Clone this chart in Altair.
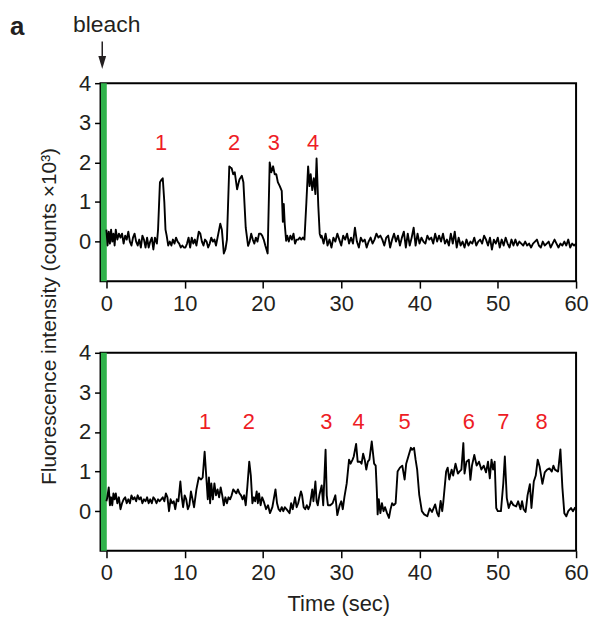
import altair as alt
import pandas as pd

FONT = "Liberation Sans"

# ---------------- top trace (time in s, intensity in counts x10^3) ----------------
top_t = [0.0, 0.15, 0.3, 0.45, 0.6, 0.75, 0.9, 1.05, 1.2, 1.4, 1.6, 1.8, 2.0, 2.2, 2.4, 2.6, 2.8, 3.0,
         3.2, 3.4, 3.6, 3.8, 4.0, 4.2, 4.4, 4.6, 4.8, 5.0, 5.2, 5.4, 5.6, 5.8, 6.0, 6.2, 6.45, 6.6,
         6.84, 7.0, 7.2, 7.4, 7.55, 7.7, 7.9, 8.1, 8.3, 8.5, 8.7, 8.9, 9.1, 9.3, 9.5, 9.7, 9.9,
         10.1, 10.3, 10.5, 10.7, 10.9, 11.1, 11.3, 11.5, 11.8, 12.0, 12.2, 12.4, 12.6, 12.8, 13.0,
         13.2, 13.4, 13.6, 13.8, 14.0, 14.3, 14.55, 14.75, 15.0, 15.2, 15.4, 15.7, 15.85, 16.0,
         16.2, 16.4, 16.7, 16.85, 17.0, 17.3, 17.5, 17.8, 18.1, 18.3, 18.5, 18.7, 18.9, 19.1, 19.3,
         19.5, 19.7, 19.9, 20.1, 20.3, 20.6, 20.86, 21.07, 21.3, 21.5, 21.7, 21.9, 22.15, 22.4,
         22.54, 22.66, 22.78, 22.96, 23.1, 23.3, 23.5, 23.7, 23.9, 24.1, 24.3, 24.5, 24.7, 24.9,
         25.1, 25.3, 25.55, 25.77, 25.95, 26.1, 26.3, 26.5, 26.7, 26.85, 27.07, 27.25, 27.4,
         27.5, 27.75, 28.0, 28.25, 28.5, 28.75, 29.0, 29.25, 29.5, 29.75, 30.0, 30.25, 30.5, 30.75,
         31.0, 31.25, 31.5, 31.75, 32.0, 32.25, 32.5, 32.75, 33.0, 33.25, 33.5, 33.75, 34.0, 34.25,
         34.5, 34.75, 35.0, 35.25, 35.5, 35.75, 36.0, 36.25, 36.5, 36.75, 37.0, 37.25, 37.5, 37.75,
         38.0, 38.25, 38.5, 38.75, 39.0, 39.25, 39.5, 39.75, 40.0, 40.25, 40.5, 40.75, 41.0, 41.25,
         41.5, 41.75, 42.0, 42.25, 42.5, 42.75, 43.0, 43.25, 43.5, 43.75, 44.0, 44.25, 44.5, 44.75,
         45.0, 45.25, 45.5, 45.75, 46.0, 46.25, 46.5, 46.75, 47.0, 47.25, 47.5, 47.75, 48.0, 48.25,
         48.5, 48.75, 49.0, 49.25, 49.5, 49.75, 50.0, 50.25, 50.5, 50.75, 51.0, 51.25, 51.5, 51.75,
         52.0, 52.25, 52.5, 52.75, 53.0, 53.25, 53.5, 53.75, 54.0, 54.25, 54.5, 54.75, 55.0, 55.25,
         55.5, 55.75, 56.0, 56.25, 56.5, 56.75, 57.0, 57.25, 57.5, 57.75, 58.0, 58.25, 58.5, 58.75,
         59.0, 59.25, 59.5, 59.75, 60.0]
top_v = [0.3, -0.1, 0.25, -0.05, 0.3, 0.0, 0.2, -0.1, 0.3, 0.05, 0.2, 0.1, 0.2, -0.05, 0.15, 0.05, 0.25, 0.0,
         -0.1, 0.1, 0.2, 0.0, -0.1, 0.05, -0.15, 0.15, 0.05, -0.15, 0.1, -0.15, 0.0, 0.1, -0.2, 0.1, -0.05, 0.3,
         1.5, 1.55, 1.6, 1.0, 0.3, 0.15, -0.1, 0.0, -0.1, 0.05, -0.05, 0.1, 0.0, -0.05, -0.15, -0.1, -0.15,
         -0.15, -0.05, 0.1, -0.15, 0.1, -0.05, 0.05, -0.1, 0.25, 0.2, 0.0, -0.1, 0.05, 0.0, -0.15,
         -0.05, 0.1, 0.0, 0.05, -0.1, 0.2, 0.45, 0.3, -0.3, -0.2, 0.05, 1.9, 1.87, 1.85,
         1.7, 1.75, 1.32, 1.45, 1.57, 1.66, 1.5, 0.35, -0.11, 0.0, 0.2, 0.05, -0.05, 0.1, 0.0,
         0.2, 0.2, 0.15, 0.05, -0.1, -0.3, 2.0, 1.75, 1.9, 1.7, 1.7, 1.5, 1.4, 1.28,
         0.5, 0.95, 0.45, 0.02, 0.15, 0.0, 0.15, 0.05, 0.2, -0.05, 0.05, 0.05, 0.1, 0.05,
         0.1, 0.05, 1.0, 1.9, 1.4, 1.7, 1.3, 1.6, 1.2, 2.1, 0.9, 0.2, 0.1,
         0.15, -0.05, 0.2, -0.1, 0.05, -0.15, 0.1, 0.0, 0.2, 0.05, -0.1, 0.15, 0.05, 0.2,
         -0.05, 0.1, -0.05, 0.35, 0.0, -0.15, 0.1, 0.0, 0.05, -0.15, 0.0, 0.1, -0.05, 0.05,
         0.2, 0.1, 0.15, 0.05, -0.1, 0.1, 0.15, -0.15, 0.05, 0.2, 0.0, 0.15, -0.1, 0.1,
         0.25, -0.15, 0.2, -0.1, 0.1, 0.35, -0.1, 0.2, -0.05, 0.1, 0.0, -0.05, 0.15, 0.05,
         0.1, -0.05, 0.2, 0.0, 0.15, 0.0, 0.2, -0.05, 0.05, -0.1, 0.2, -0.05, 0.25, -0.15,
         0.1, -0.1, 0.0, -0.15, 0.05, -0.1, 0.0, -0.05, 0.1, -0.1, 0.0, 0.05, -0.05, 0.15,
         0.05, -0.1, 0.1, -0.2, 0.05, -0.05, 0.1, -0.15, 0.05, -0.1, 0.1, -0.05, -0.15, 0.05,
         -0.1, 0.05, -0.1, 0.0, -0.05, -0.1, 0.0, -0.1, -0.05, -0.15, -0.05, 0.0, 0.05, -0.1,
         -0.15, 0.0, -0.1, -0.05, 0.0, -0.15, -0.05, 0.05, -0.05, -0.15, -0.05, -0.1, 0.0, -0.1,
         0.05, -0.15, -0.05, -0.1, -0.05]

# ---------------- bottom trace ----------------
bot_t = [0.0, 0.1, 0.3, 0.45, 0.6, 0.75, 0.9, 1.05, 1.2, 1.4, 1.6, 1.8, 2.0, 2.2, 2.4, 2.6, 2.8, 3.0,
         3.2, 3.4, 3.6, 3.8, 4.0, 4.2, 4.4, 4.6, 4.8, 5.0, 5.2, 5.4, 5.6, 5.8, 6.0, 6.2, 6.4, 6.6,
         6.8, 7.0, 7.2, 7.4, 7.6, 7.8, 8.0, 8.2, 8.4, 8.6, 8.8, 9.0, 9.2, 9.45, 9.6, 9.8, 10.0,
         10.2, 10.4, 10.6, 10.8, 11.0, 11.2, 11.5, 11.8, 12.1, 12.3, 12.55, 12.75, 12.95, 13.1,
         13.25, 13.4, 13.6, 13.8, 14.0, 14.2, 14.4, 14.6, 14.8, 15.0, 15.2, 15.4, 15.6, 15.8, 16.0,
         16.2, 16.4, 16.6, 16.8, 17.0, 17.2, 17.4, 17.6, 17.8, 18.0, 18.25, 18.45, 18.65, 18.85,
         19.0, 19.2, 19.35, 19.5, 19.7, 19.9, 20.1, 20.4, 20.65, 20.9, 21.2, 21.6, 21.8, 22.0,
         22.2, 22.4, 22.6, 22.8, 23.0, 23.2, 23.4, 23.6, 23.8, 24.1, 24.3, 24.5, 24.85, 25.0,
         25.2, 25.4, 25.6, 25.8, 26.0, 26.3, 26.45, 26.7, 26.85, 27.0, 27.2, 27.5, 27.7, 28.0,
         28.15, 28.3, 28.6, 28.9, 29.25, 29.5, 29.8, 30.0, 30.2, 30.4, 30.7, 31.0, 31.2, 31.45,
         31.6, 31.9, 32.1, 32.4, 32.6, 32.8, 33.0, 33.2, 33.4, 33.6, 33.9, 34.2, 34.4, 34.55,
         34.65, 34.8, 35.0, 35.2, 35.4, 35.6, 35.85, 36.1, 36.3, 36.5, 36.7, 36.95, 37.2, 37.5,
         37.8, 38.1, 38.3, 38.6, 38.9, 39.05, 39.3, 39.5, 39.7, 39.96, 40.3, 40.6, 41.0, 41.3,
         41.6, 42.0, 42.25, 42.45, 42.7, 42.9, 43.05, 43.4, 43.6, 43.8, 44.1, 44.3, 44.6, 44.9,
         45.1, 45.35, 45.6, 45.75, 46.0, 46.3, 46.5, 46.7, 47.0, 47.3, 47.6, 47.9, 48.2, 48.5,
         48.75, 48.98, 49.2, 49.4, 49.6, 49.8, 50.0, 50.4, 50.7, 50.9, 51.15, 51.4, 51.7, 52.0,
         52.35, 52.6, 52.9, 53.1, 53.3, 53.55, 53.8, 54.1, 54.3, 54.6, 54.85, 55.1, 55.35, 55.7,
         56.0, 56.3, 56.6, 56.9, 57.1, 57.3, 57.7, 58.0, 58.25, 58.5, 58.75, 59.0, 59.35, 59.6,
         59.9]
bot_v = [0.25, 0.33, 0.6, 0.15, 0.35, 0.15, 0.45, 0.3, 0.45, 0.2, 0.35, 0.05, 0.2, 0.3, 0.35, 0.2, 0.3, 0.2,
         0.4, 0.3, 0.35, 0.25, 0.4, 0.3, 0.35, 0.2, 0.3, 0.25, 0.35, 0.2, 0.3, 0.2, 0.35, 0.3, 0.2, 0.3,
         0.25, 0.3, 0.35, 0.25, 0.45, 0.35, 0.0, 0.3, 0.2, 0.25, 0.05, 0.3, 0.25, 0.75, 0.4, 0.1, 0.4,
         0.3, 0.05, 0.15, 0.5, 0.3, 0.1, 0.55, 0.85, 0.8, 0.85, 1.5, 0.9, 0.3, 0.85,
         0.2, 0.7, 0.3, 0.7, 0.4, 0.55, 0.35, 0.6, 0.4, 0.15, 0.35, 0.2, 0.35, 0.3, 0.4,
         0.55, 0.5, 0.45, 0.55, 0.45, 0.4, 0.3, 0.4, 0.15, 0.6, 1.25, 0.9, 0.2, 0.35,
         0.25, 0.5, 0.2, 0.45, 0.15, 0.35, 0.25, 0.05, 0.15, -0.05, 0.1, 0.55, 0.2, 0.05,
         0.0, 0.1, 0.0, 0.1, 0.05, 0.0, -0.05, 0.2, 0.05, 0.35, 0.1, 0.2, 0.5, 0.4,
         0.1, 0.05, 0.15, 0.05, 0.15, 0.55, 0.25, 0.75, 0.25, 0.15, 0.4, 0.65, 0.15, 1.55,
         0.4, 0.15, 0.15, 0.2, 0.4, -0.1, 0.15, 0.25, 0.05, 0.35, 0.7, 1.3, 1.2, 1.3,
         1.38, 1.7, 1.25, 1.25, 1.2, 1.45, 1.3, 1.05, 1.25, 1.3, 1.76, 1.2, 1.15, 0.5,
         -0.08, 0.3, -0.05, 0.2, 0.0, 0.1, -0.05, -0.17, 0.05, 0.2, 0.15, 0.2, 1.0, 1.1,
         1.15, 0.8, 1.2, 1.4, 1.6, 1.55, 1.6, 1.3, 1.05, 0.42, 0.0, -0.08, -0.13, 0.07,
         -0.02, 0.17, -0.05, -0.13, 0.26, 0.0, 0.25, 1.0, 1.1, 0.8, 1.05, 0.9, 1.2, 0.95,
         1.0, 1.05, 1.72, 0.95, 1.25, 1.3, 0.79, 1.15, 1.42, 1.15, 1.25, 1.05, 1.15, 0.98,
         1.25, 0.83, 1.3, 1.05, 1.25, 0.08, 0.0, 0.0, 0.7, 1.38, 0.33, 0.08, 0.25, 0.15,
         0.12, 0.25, 0.05, 0.25, 0.05, -0.02, 0.4, 0.68, 0.08, 0.75, 0.9, 1.3, 1.12, 0.69,
         0.98, 1.05, 1.08, 1.0, 1.15, 1.05, 1.0, 1.56, 0.6, -0.05, -0.13, 0.0, 0.08, 0.0,
         0.1]

# ---------------- event labels ----------------
top_lab = ["1", "2", "3", "4"]
top_lab_t = [6.97, 16.3, 21.4, 26.4]
top_lab_v = [2.5, 2.5, 2.5, 2.5]
bot_lab = ["1", "2", "3", "4", "5", "6", "7", "8"]
bot_lab_t = [12.6, 18.2, 28.1, 32.2, 38.1, 46.3, 50.7, 55.6]
bot_lab_v = [2.25, 2.25, 2.25, 2.25, 2.25, 2.25, 2.25, 2.25]

x_ticks = [0, 10, 20, 30, 40, 50, 60]
y_ticks = [0, 1, 2, 3, 4]
X_DOM = [-0.75, 60]
Y_DOM = [-1, 4]

# bleach band and annotations (data coordinates)
band_t = [-0.7, 0.05]
bleach_t = -0.53
arrow_v = [5.05, 4.68]
head_v = 4.52
bleach_text = [{"t": 0.04, "v": 5.46, "s": "bleach"}]
panel_text = [{"t": -11.4, "v": 5.43, "s": "a"}]

W, H = 478, 199
GREEN = "#2fb24a"
RED = "#ee1c25"
INK = "#231f20"

xscale = alt.Scale(domain=X_DOM, nice=False, zero=False)
yscale = alt.Scale(domain=Y_DOM, nice=False, zero=False)


def x_axis(title=None):
    kw = dict(values=x_ticks, grid=False, domain=False, tickSize=7, tickWidth=1.5,
              tickColor="black", labelFontSize=22, labelFont=FONT, labelColor=INK,
              labelPadding=5, labelFlush=False)
    if title:
        kw.update(title=title, titleFontSize=22, titleFont=FONT, titleFontWeight="normal",
                  titleColor=INK, titlePadding=10)
    else:
        kw.update(title=None)
    return alt.Axis(**kw)


def y_axis(title=None):
    kw = dict(values=y_ticks, grid=False, domain=False, tickSize=6, tickWidth=1.5,
              tickColor="black", labelFontSize=22, labelFont=FONT, labelColor=INK,
              labelPadding=4, labelFlush=False, format="d")
    if title:
        kw.update(title=title, titleFontSize=21, titleFont=FONT, titleFontWeight="normal",
                  titleColor=INK, titleX=-41, titleY=234, titleAngle=270,
                  titleAlign="center", titleBaseline="bottom")
    else:
        kw.update(title=None)
    return alt.Axis(**kw)


def panel(ts, vs, labs, lab_t, lab_v, xtitle=None, ytitle=None, annot=False):
    xa = x_axis(xtitle)
    ya = y_axis(ytitle)
    X = lambda f="t": alt.X(f"{f}:Q", scale=xscale, axis=xa)
    Y = lambda f="v": alt.Y(f"{f}:Q", scale=yscale, axis=ya)

    band = alt.Chart(pd.DataFrame({"t": [band_t[0]], "t2": [band_t[1]],
                                   "v": [Y_DOM[0]], "v2": [Y_DOM[1]]})).mark_rect(
        color=GREEN).encode(x=X(), x2="t2:Q", y=Y(), y2="v2:Q")

    line = alt.Chart(pd.DataFrame({"t": ts, "v": vs})).mark_line(
        color="black", strokeWidth=1.9, strokeJoin="round").encode(x=X(), y=Y())

    labels = alt.Chart(pd.DataFrame({"t": lab_t, "v": lab_v, "s": labs})).mark_text(
        color=RED, fontSize=22, font=FONT, baseline="middle", align="center").encode(
        x=X(), y=Y(), text="s:N")

    layers = [band, line, labels]
    if annot:
        shaft = alt.Chart(pd.DataFrame({"t": [bleach_t], "v": [arrow_v[0]], "v2": [arrow_v[1]]})).mark_rule(
            color=INK, strokeWidth=1.5).encode(x=X(), y=Y(), y2="v2:Q")
        head = alt.Chart(pd.DataFrame({"t": [bleach_t], "v": [head_v]})).mark_point(
            shape="M-0.6,-1L0.6,-1L0,1Z", size=170, filled=True, color=INK, opacity=1,
            strokeWidth=0).encode(x=X(), y=Y())
        btxt = alt.Chart(pd.DataFrame(bleach_text)).mark_text(
            fontSize=23, font=FONT, color=INK, baseline="middle", align="center").encode(
            x=X(), y=Y(), text="s:N")
        atxt = alt.Chart(pd.DataFrame(panel_text)).mark_text(
            fontSize=26, font=FONT, fontWeight="bold", color=INK, baseline="middle",
            align="center").encode(x=X(), y=Y(), text="s:N")
        layers += [shaft, head, btxt, atxt]

    frame = alt.ViewBackground(stroke="black", strokeWidth=2, fill="white")
    return alt.layer(*layers).properties(width=W, height=H, view=frame)


top = panel(top_t, top_v, top_lab, top_lab_t, top_lab_v,
            ytitle="Fluorescence intensity (counts \u00d710\u00b3)", annot=True)
bottom = panel(bot_t, bot_v, bot_lab, bot_lab_t, bot_lab_v, xtitle="Time (sec)")

chart = alt.vconcat(top, bottom, spacing=72, bounds="flush").properties(
    padding={"left": 0, "top": 3, "right": 0, "bottom": 0}
).configure_view(stroke="black", strokeWidth=2).configure(background="white")

chart.save("out.html", embed_options={"renderer": "svg", "actions": False})
